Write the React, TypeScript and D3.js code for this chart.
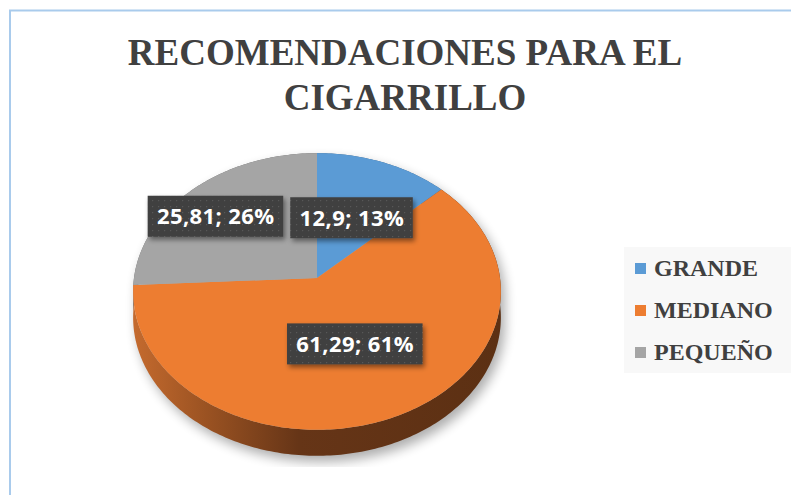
import React, { useEffect, useRef } from 'react';
import * as d3 from 'd3';

const categories = ['GRANDE', 'MEDIANO', 'PEQUEÑO'];
const values = [12.9, 61.29, 25.81];
const colors = ['#5b9bd5', '#ed7d31', '#a5a5a5'];
const titleLines = ['RECOMENDACIONES PARA EL', 'CIGARRILLO'];

const W = 791;
const H = 495;

export default function App() {
  const svgRef = useRef<SVGSVGElement>(null);

  useEffect(() => {
    if (!svgRef.current) return;
    const svg = d3.select(svgRef.current);
    svg.selectAll('*').remove();

    // pie geometry (tilted disc with a touch of perspective)
    const CX = 317, CY = 278, RX = 183, RY = 137, P = 0.0975, DEPTH = 26;

    const defs = svg.append('defs');

    const blur = defs.append('filter').attr('id', 'pieShadow')
      .attr('x', '-20%').attr('y', '-20%').attr('width', '140%').attr('height', '140%');
    blur.append('feGaussianBlur').attr('stdDeviation', 6);

    const lblShadow = defs.append('filter').attr('id', 'lblShadow')
      .attr('x', '-20%').attr('y', '-30%').attr('width', '150%').attr('height', '180%');
    lblShadow.append('feDropShadow')
      .attr('dx', 2).attr('dy', 3).attr('stdDeviation', 2.5)
      .attr('flood-color', '#000').attr('flood-opacity', 0.45);

    const pat = defs.append('pattern').attr('id', 'dots')
      .attr('width', 6).attr('height', 6).attr('patternUnits', 'userSpaceOnUse');
    pat.append('rect').attr('width', 6).attr('height', 6).attr('fill', '#3f3f3f');
    pat.append('rect').attr('x', 2).attr('y', 2).attr('width', 1.2).attr('height', 1.2).attr('fill', '#585858');

    const grad = defs.append('linearGradient').attr('id', 'sideOrange')
      .attr('gradientUnits', 'userSpaceOnUse')
      .attr('x1', CX - RX).attr('x2', CX + RX).attr('y1', 0).attr('y2', 0);
    grad.append('stop').attr('offset', 0).attr('stop-color', '#c46a2e');
    grad.append('stop').attr('offset', 0.2).attr('stop-color', '#9a5222');
    grad.append('stop').attr('offset', 0.45).attr('stop-color', '#663517');
    grad.append('stop').attr('offset', 1).attr('stop-color', '#5c3013');

    defs.append('clipPath').attr('id', 'plotClip')
      .append('rect').attr('x', 0).attr('y', 0).attr('width', W).attr('height', 467);

    // background + frame
    svg.append('rect').attr('width', W).attr('height', H).attr('fill', '#ffffff');
    svg.append('path')
      .attr('d', `M10,${H} V10.5 H${W}`)
      .attr('fill', 'none').attr('stroke', '#a9cbec').attr('stroke-width', 2);

    // title
    svg.append('g').selectAll('text').data(titleLines).enter().append('text')
      .attr('x', 405).attr('y', (_, i) => 65 + i * 45)
      .attr('text-anchor', 'middle')
      .style('font-family', '"Liberation Serif", "Times New Roman", serif')
      .style('font-weight', 'bold').style('font-size', '37px')
      .attr('fill', '#404040')
      .text(d => d);

    const arcs = d3.pie<number>().sort(null).value(d => d)(values);
    const total = d3.sum(values);

    const proj = (a: number, f = 1): [number, number] => {
      const u = f * Math.sin(a), v = -f * Math.cos(a);
      const w = 1 - P * v;
      return [CX + (RX * u) / w, CY + (RY * v) / w];
    };
    const arcPts = (a0: number, a1: number, f = 1) => {
      const n = Math.max(2, Math.ceil((a1 - a0) / (Math.PI / 180)));
      return d3.range(n + 1).map(i => proj(a0 + ((a1 - a0) * i) / n, f));
    };
    const line = d3.line();

    // soft shadow under the disc
    const ring = arcPts(0, 2 * Math.PI);
    const hull = d3.polygonHull([...ring, ...ring.map(([x, y]) => [x, y + DEPTH] as [number, number])])!;
    svg.append('g').attr('clip-path', 'url(#plotClip)')
      .append('path')
      .attr('d', line(hull.map(([x, y]) => [x + 4, y + 6] as [number, number])) + 'Z')
      .attr('fill', '#000').attr('opacity', 0.32)
      .attr('filter', 'url(#pieShadow)');

    const pieG = svg.append('g');

    // sides
    arcs.forEach((d, i) => {
      const top = arcPts(d.startAngle, d.endAngle);
      const bottom = top.map(([x, y]) => [x, y + DEPTH] as [number, number]).reverse();
      pieG.append('path')
        .attr('d', line([...top, ...bottom]) + 'Z')
        .attr('fill', i === 1 ? 'url(#sideOrange)' : d3.color(colors[i])!.darker(1.3).formatHex());
    });

    // top faces
    arcs.forEach((d, i) => {
      const pts = [proj(0, 0), ...arcPts(d.startAngle, d.endAngle)];
      pieG.append('path')
        .attr('d', line(pts) + 'Z')
        .attr('fill', colors[i]);
    });

    // data labels
    const fmt = (v: number) => String(v).replace('.', ',');
    const boxes: { x0: number; x1: number; y0: number; y1: number; cy: number }[] = [];
    const lblG = svg.append('g');
    arcs.forEach((d, i) => {
      const mid = (d.startAngle + d.endAngle) / 2;
      let [x, y] = proj(mid, 0.5);
      const g = lblG.append('g');
      const t = g.append('text')
        .attr('text-anchor', 'middle')
        .style('font-family', '"Open Sans", "Noto Sans", sans-serif')
        .style('font-weight', 'bold').style('font-size', '22px')
        .style('letter-spacing', '0.4px')
        .attr('fill', '#ffffff')
        .text(`${fmt(values[i])}; ${Math.round((values[i] / total) * 100)}%`);
      const tw = (t.node() as SVGTextElement).getComputedTextLength();
      const bw = tw + 18, bh = 41;
      for (const b of boxes) {
        const overlap = x - bw / 2 < b.x1 && x + bw / 2 > b.x0 && y - bh / 2 < b.y1 && y + bh / 2 > b.y0;
        if (overlap) {
          x = x < (b.x0 + b.x1) / 2 ? b.x0 - 7 - bw / 2 : b.x1 + 7 + bw / 2;
          y = b.cy - 1.5;
        }
      }
      boxes.push({ x0: x - bw / 2, x1: x + bw / 2, y0: y - bh / 2, y1: y + bh / 2, cy: y });
      g.insert('rect', 'text')
        .attr('x', x - bw / 2).attr('y', y - bh / 2)
        .attr('width', bw).attr('height', bh)
        .attr('fill', 'url(#dots)')
        .attr('filter', 'url(#lblShadow)');
      t.attr('x', x + 0.3).attr('y', y + 8);
    });

    // legend
    const legend = svg.append('g');
    legend.append('rect').attr('x', 624).attr('y', 247).attr('width', W - 624).attr('height', 126)
      .attr('fill', '#f8f8f8');
    const ly = d3.scalePoint<string>().domain(categories).range([276, 360]);
    categories.forEach((c, i) => {
      legend.append('rect')
        .attr('x', 635).attr('y', ly(c)! - 13).attr('width', 11).attr('height', 11)
        .attr('fill', colors[i]);
      legend.append('text')
        .attr('x', 654).attr('y', ly(c)!)
        .style('font-family', '"Liberation Serif", "Times New Roman", serif')
        .style('font-weight', 'bold').style('font-size', '24px')
        .attr('fill', '#404040')
        .text(c);
    });
  }, []);

  return (
    <div style={{ position: 'absolute', left: 0, top: 0 }}>
      <svg ref={svgRef} width={W} height={H} style={{ display: 'block' }} />
    </div>
  );
}
